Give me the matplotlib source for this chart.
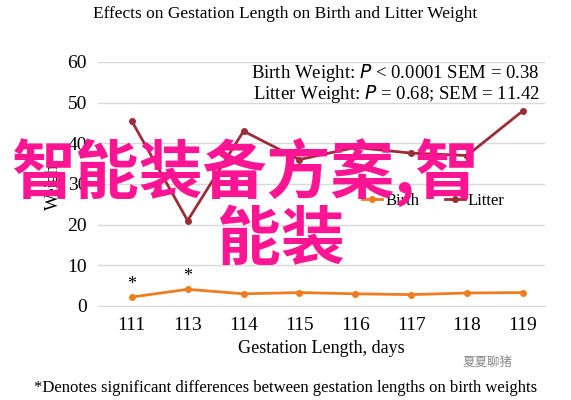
import matplotlib
matplotlib.use("Agg")
import matplotlib.pyplot as plt

days = ["111", "113", "114", "115", "116", "117", "118", "119"]
birth = [2.2, 4.1, 3.0, 3.3, 3.0, 2.8, 3.2, 3.3]
litter = [45.5, 21.0, 43.0, 36.0, 39.0, 37.6, 37.0, 48.0]

plt.rcParams['font.family'] = ['Liberation Serif', 'DejaVu Serif']
fig = plt.figure(figsize=(5.71, 4.0), dpi=100)
ax = fig.add_axes([0.172, 0.235, 0.783, 0.61])
x = range(len(days))
ax.plot(x, birth, color='#ED7D1F', lw=2, marker='o', ms=4, label='Birth')
ax.plot(x, litter, color='#9B2D37', lw=2, marker='o', ms=4, label='Litter')
ax.set_xticks(list(x)); ax.set_xticklabels(days)
ax.set_xlim(-0.6, 7.4)
ax.set_ylim(0, 60); ax.set_yticks(range(0, 61, 10))
ax.yaxis.grid(True, color='#D9D9D9', lw=1)
ax.set_axisbelow(True)
for s in ['top', 'right', 'left']:
    ax.spines[s].set_visible(False)
ax.spines['bottom'].set_color('#D9D9D9')
ax.tick_params(length=0, labelsize=14, pad=8)
ax.set_xlabel("Gestation Length, days", fontsize=13)
ax.set_ylabel("Weight", fontsize=13)
for i in [0, 1]:
    ax.text(i, birth[i] + 2, '*', ha='center', fontsize=13)
ax.text(7.3, 56, "Birth Weight: $P$ < 0.0001 SEM = 0.38", ha='right', fontsize=13.5)
ax.text(7.3, 51, "Litter Weight: $P$ = 0.68; SEM = 11.42", ha='right', fontsize=13.5)
ax.legend(loc='center', bbox_to_anchor=(0.75, 0.43), ncol=2, frameon=False, fontsize=12,
          handlelength=1.2, columnspacing=1.5, handletextpad=0.2)
fig.text(0.5, 0.955, "Effects on Gestation Length on Birth and Litter Weight", ha='center', fontsize=12.5)
fig.text(0.5, 0.02, "*Denotes significant differences between gestation lengths on birth weights", ha='center', fontsize=12)
fig.text(0.81, 0.085, "夏夏聊猪", fontsize=9, color='#888888', family=['Noto Sans CJK SC'])
fig.text(0.02, 0.57, "智能装备方案,智", fontsize=46, color='#FF1493', weight='bold', va='center', family=['Noto Sans CJK SC'])
fig.text(0.38, 0.40, "能装", fontsize=46, color='#FF1493', weight='bold', va='center', family=['Noto Sans CJK SC'])
fig.savefig("out.png")
